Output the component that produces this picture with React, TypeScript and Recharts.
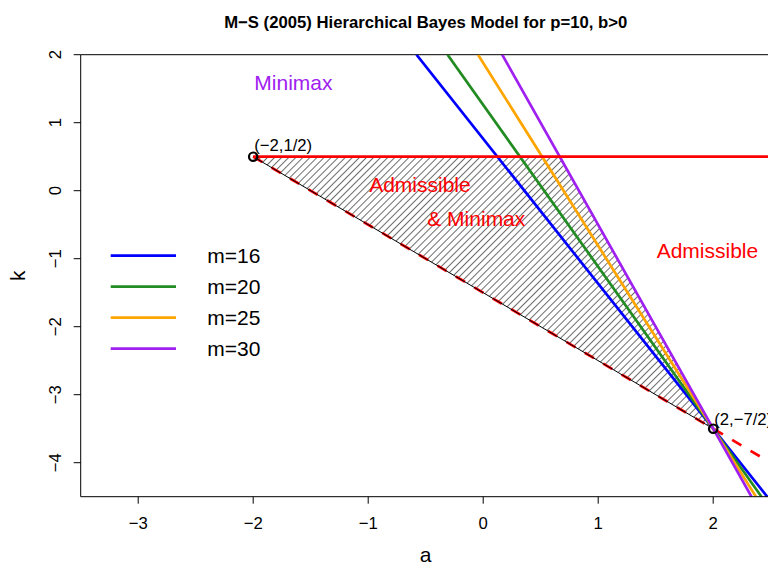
import { ComposedChart, XAxis, YAxis, Line, Area, ReferenceDot, ReferenceLine, Legend } from "recharts";

const FONT = "'Liberation Sans', Arial, Helvetica, sans-serif";

// m-lines: each passes through (2, -7/2); a where it leaves the top (k=2) and bottom (k=-4.5)
const mValues = [16, 20, 25, 30];
const mColors = ["#0000FF", "#228B22", "#FFA500", "#A020F0"];
const mTopA = [-0.58, -0.31, -0.045, 0.165];
const mBottomA = [2.47, 2.42, 2.372, 2.333];
const mLineK = [2, -3.5, -4.5];

// red boundaries
const redFlatA = [-2, 2.5];
const redFlatK = [0.5, 0.5];
const redDashA = [-2, 2.5];
const redDashK = [0.5, -4];

// hatched region (admissible & minimax)
const hatchA = [-2, 0.667, 2];
const hatchLow = [0.5, -2.167, -3.5];
const hatchHigh = [0.5, 0.5, -3.5];
const borderA = [-2, 0.667, 2, -2];
const borderK = [0.5, 0.5, -3.5, 0.5];

// marked corners
const cornerA = [-2, 2];
const cornerK = [0.5, -3.5];
const cornerLabels = ["(\u22122,1/2)", "(2,\u22127/2)"];

// region notes
const noteText = ["Minimax", "Admissible", "& Minimax", "Admissible"];
const noteA = [-1.65, -0.55, -0.06, 1.95];
const noteK = [1.6, 0.1, -0.4, -0.88];
const noteColor = ["#A020F0", "#FF0000", "#FF0000", "#FF0000"];

const xTicks = [-3, -2, -1, 0, 1, 2];
const yTicks = [-4, -3, -2, -1, 0, 1, 2];

const fmt = (v: number) => (v < 0 ? "\u2212" + Math.abs(v) : String(v));

const XTick = ({ x, payload }: any) => (
  <text x={x} y={529} textAnchor="middle" fontSize={16.7} fontFamily={FONT} fill="#000">
    {fmt(payload.value)}
  </text>
);

const YTick = ({ y, payload }: any) => (
  <text
    x={61.5}
    y={y}
    transform={`rotate(-90, 61.5, ${y})`}
    textAnchor="middle"
    fontSize={16.7}
    fontFamily={FONT}
    fill="#000"
  >
    {fmt(payload.value)}
  </text>
);

const MLegend = () => (
  <svg width={230} height={130}>
    {mValues.map((m, i) => (
      <g key={m}>
        <line x1={10.7} x2={76} y1={15.7 + 31 * i} y2={15.7 + 31 * i} stroke={mColors[i]} strokeWidth={2.7} />
        <text x={107.3} y={15.7 + 31 * i + 7.5} fontSize={21} fontFamily={FONT} fill="#000">
          m={m}
        </text>
      </g>
    ))}
  </svg>
);

export default function App() {
  const mLines = mValues.map((m, i) => ({
    m,
    color: mColors[i],
    data: [mTopA[i], 2, mBottomA[i]].map((a, j) => ({ a, k: mLineK[j] })),
  }));
  const hatchData = hatchA.map((a, i) => ({ a, range: [hatchLow[i], hatchHigh[i]] }));
  const borderData = borderA.map((a, i) => ({ a, k: borderK[i] }));
  const flatData = redFlatA.map((a, i) => ({ a, k: redFlatK[i] }));
  const dashData = redDashA.map((a, i) => ({ a, k: redDashK[i] }));

  return (
    <div style={{ position: "absolute", left: 0, top: 0, width: 768, height: 565, overflow: "hidden", background: "#fff" }}>
      <ComposedChart width={780} height={565} margin={{ top: 54.7, right: 9.3, bottom: 0, left: 0 }}>
        <defs>
          <pattern id="hatch" patternUnits="userSpaceOnUse" width={5} height={10} patternTransform="rotate(45)">
            <line x1={0} y1={0} x2={0} y2={10} stroke="#000" strokeWidth={1.15} />
          </pattern>
        </defs>

        <XAxis
          dataKey="a"
          type="number"
          domain={[-3.5, 2.5]}
          allowDataOverflow
          ticks={xTicks}
          height={68.3}
          tickSize={7}
          axisLine={{ stroke: "#000" }}
          tickLine={{ stroke: "#000" }}
          tick={<XTick />}
        />
        <YAxis
          dataKey="k"
          type="number"
          domain={[-4.5, 2]}
          allowDataOverflow
          ticks={yTicks}
          width={80.7}
          tickSize={7}
          axisLine={{ stroke: "#000" }}
          tickLine={{ stroke: "#000" }}
          tick={<YTick />}
        />
        <ReferenceLine y={2} stroke="#000" strokeWidth={1} />

        <Area
          data={hatchData}
          dataKey="range"
          type="linear"
          fill="url(#hatch)"
          fillOpacity={1}
          stroke="none"
          isAnimationActive={false}
          legendType="none"
        />
        <Line
          data={dashData}
          dataKey="k"
          type="linear"
          stroke="#FF0000"
          strokeWidth={2.7}
          strokeDasharray="10.7 10.7"
          dot={false}
          activeDot={false}
          isAnimationActive={false}
          legendType="none"
        />
        <Line
          data={borderData}
          dataKey="k"
          type="linear"
          stroke="#000"
          strokeWidth={1}
          dot={false}
          activeDot={false}
          isAnimationActive={false}
          legendType="none"
        />
        {mLines.map((l) => (
          <Line
            key={l.m}
            data={l.data}
            dataKey="k"
            name={`m=${l.m}`}
            type="linear"
            stroke={l.color}
            strokeWidth={2.7}
            dot={false}
            activeDot={false}
            isAnimationActive={false}
          />
        ))}
        <Line
          data={flatData}
          dataKey="k"
          type="linear"
          stroke="#FF0000"
          strokeWidth={2.7}
          dot={false}
          activeDot={false}
          isAnimationActive={false}
          legendType="none"
        />

        {cornerA.map((a, i) => (
          <ReferenceDot
            key={"c" + i}
            x={a}
            y={cornerK[i]}
            r={4.2}
            fill="none"
            stroke="#000"
            strokeWidth={2.2}
            ifOverflow="visible"
          />
        ))}
        {cornerA.map((a, i) => (
          <ReferenceDot
            key={"cl" + i}
            x={a}
            y={cornerK[i]}
            r={0}
            ifOverflow="visible"
            shape={(p: any) => (
              <text x={p.cx + 1} y={p.cy - (i === 0 ? 6 : 3.7)} fontSize={16.7} fontFamily={FONT} fill="#000">
                {cornerLabels[i]}
              </text>
            )}
          />
        ))}
        {noteText.map((t, i) => (
          <ReferenceDot
            key={"n" + i}
            x={noteA[i]}
            y={noteK[i]}
            r={0}
            ifOverflow="visible"
            shape={(p: any) => (
              <text x={p.cx} y={p.cy + 7.7} textAnchor="middle" fontSize={21} fontFamily={FONT} fill={noteColor[i]}>
                {t}
              </text>
            )}
          />
        ))}

        <Legend
          content={<MLegend />}
          layout="horizontal"
          verticalAlign="middle"
          align="center"
          wrapperStyle={{ position: "absolute", left: 100, top: 240, width: 230, height: 130 }}
        />

        <text x={425.7} y={27.5} textAnchor="middle" fontWeight="bold" fontSize={16.7} fontFamily={FONT} fill="#000">
          M{"\u2212"}S (2005) Hierarchical Bayes Model for p=10, b&gt;0
        </text>
        <text x={425.7} y={561.5} textAnchor="middle" fontSize={21} fontFamily={FONT} fill="#000">
          a
        </text>
        <text x={25} y={275.7} transform="rotate(-90, 25, 275.7)" textAnchor="middle" fontSize={21} fontFamily={FONT} fill="#000">
          k
        </text>
      </ComposedChart>
    </div>
  );
}
